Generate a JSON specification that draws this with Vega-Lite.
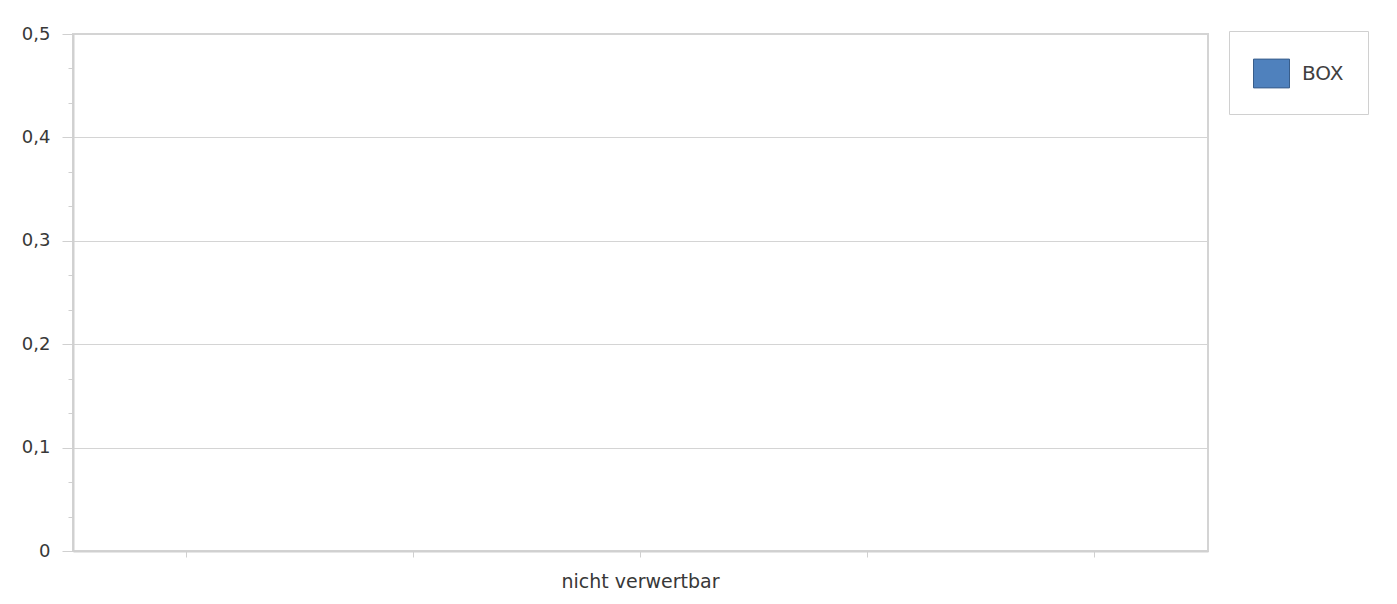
{
  "$schema": "https://vega.github.io/schema/vega-lite/v6.json",
  "autosize": {"type": "none"},
  "width": 1135,
  "height": 517,
  "padding": {"left": 73, "top": 34, "right": 189, "bottom": 53},
  "background": "white",
  "data": {"values": [{"kategorie": "nicht verwertbar", "wert": 0, "serie": "BOX"}]},
  "layer": [
    {
      "mark": {"type": "bar", "strokeWidth": 0},
      "encoding": {
        "x": {
          "field": "kategorie",
          "type": "nominal",
          "scale": {"domain": [" ", "  ", "nicht verwertbar", "   ", "    "], "paddingInner": 0.4, "paddingOuter": 0.2},
          "axis": {
            "title": null,
            "labelAngle": 0,
            "domainColor": "#d0d0d0",
            "domainWidth": 2,
            "tickColor": "#d0d0d0",
            "tickSize": 6,
            "labelPadding": 15,
            "labelFontSize": 19,
            "grid": false
          }
        },
        "y": {
          "field": "wert",
          "type": "quantitative",
          "scale": {"domain": [0, 0.5], "nice": false, "zero": true},
          "axis": {
            "title": null,
            "values": [0, 0.1, 0.2, 0.3, 0.4, 0.5],
            "labelExpr": "datum.value == 0 ? '0' : replace(format(datum.value, '.1f'), '.', ',')",
            "tickSize": 11,
            "labelPadding": 12,
            "tickColor": "#d0d0d0",
            "domainColor": "#d0d0d0",
            "domainWidth": 2,
            "grid": true,
            "gridColor": "#d4d4d4",
            "gridWidth": 1
          }
        },
        "color": {
          "field": "serie",
          "type": "nominal",
          "scale": {"range": ["#4f81bd"]},
          "legend": {
            "title": null,
            "orient": "none",
            "legendX": 1156,
            "legendY": -3,
            "strokeColor": "#d0d0d0",
            "fillColor": "white",
            "padding": 24,
            "symbolType": "M-1,-0.8H1V0.8H-1Z",
            "symbolSize": 1296,
            "symbolStrokeColor": "#385d8a",
            "symbolStrokeWidth": 1,
            "symbolOpacity": 1,
            "labelOffset": 12,
            "labelFontSize": 20,
            "labelColor": "#404040"
          }
        }
      }
    },
    {
      "mark": {"type": "point", "opacity": 0},
      "encoding": {
        "y": {
          "field": "wert",
          "type": "quantitative",
          "axis": {
            "orient": "left",
            "title": null,
            "values": [0.0333, 0.0667, 0.1333, 0.1667, 0.2333, 0.2667, 0.3333, 0.3667, 0.4333, 0.4667],
            "labels": false,
            "domain": false,
            "grid": false,
            "tickSize": 5,
            "tickColor": "#d0d0d0"
          }
        }
      }
    }
  ],
  "resolve": {"axis": {"y": "independent"}},
  "config": {
    "font": "DejaVu Sans",
    "view": {"stroke": "#d4d4d4", "strokeWidth": 2},
    "axis": {"labelFont": "DejaVu Sans", "labelFontSize": 18, "labelColor": "#383838"},
    "legend": {"labelFont": "DejaVu Sans"}
  }
}
